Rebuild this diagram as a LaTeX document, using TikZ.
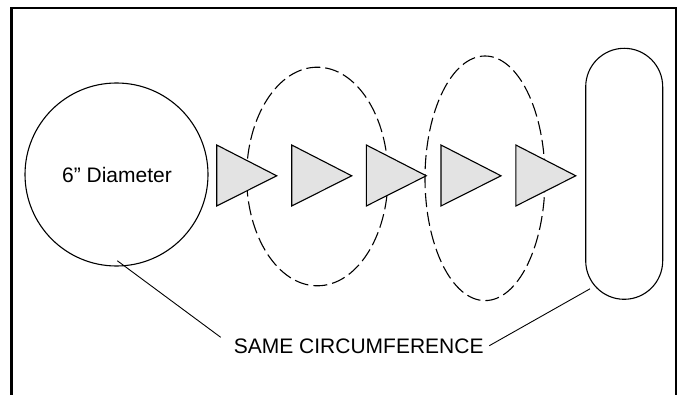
\documentclass[tikz,border=0pt]{standalone}
\usepackage{fontspec}
\setmainfont{Liberation Sans}
\usetikzlibrary{shapes.geometric}
\begin{document}
\begin{tikzpicture}[x=1pt,y=-1pt,
  outline/.style={draw=black,line width=1.1pt},
  wedge/.style={draw=black,line width=1.1pt,fill=black!11},
  guide/.style={draw=black,line width=1.1pt,dash pattern=on 14pt off 5pt},
  leader/.style={draw=black,line width=0.9pt},
  lbl/.style={font=\fontsize{21}{25}\selectfont,inner sep=0pt}]
\useasboundingbox (0,0) rectangle (679,395);
% open frame
\draw[line width=2.4pt] (11.3,395) -- (11.3,8) -- (675.8,8) -- (675.8,395);
% round cross-section
\node[outline,circle,minimum size=183pt,inner sep=0pt] (round) at (116.5,174.5) {};
\node[lbl] (dia) at (117,175) {6\textquotedblright\ Diameter};
% intermediate (dashed) ellipses
\draw[guide] (317.3,176.5) ellipse [x radius=70.7,y radius=109.3];
\draw[guide] (485,178.3) ellipse [x radius=60,y radius=122.3];
% flattened cross-section
\node[outline,rounded corners=38.5pt,minimum width=77pt,minimum height=251pt,inner sep=0pt] (flat) at (624.2,173.8) {};
% direction arrows
\foreach \i/\x in {1/216.7,2/291.7,3/366.3,4/441,5/515.8}{
  \draw[wedge] (\x,145) -- (\x+60,175.8) -- (\x,206) -- cycle;
}
% caption with leaders
\node[lbl,anchor=base] (same) at (358.7,353.3) {SAME CIRCUMFERENCE};
\coordinate (lA) at (220.7,337.3);
\coordinate (rA) at (489.3,345.7);
\draw[leader] (round.south) ++(0.8,-5.8) -- (lA);
\draw[leader] (flat.south west) ++(4.8,-11) -- (rA);
\end{tikzpicture}
\end{document}
